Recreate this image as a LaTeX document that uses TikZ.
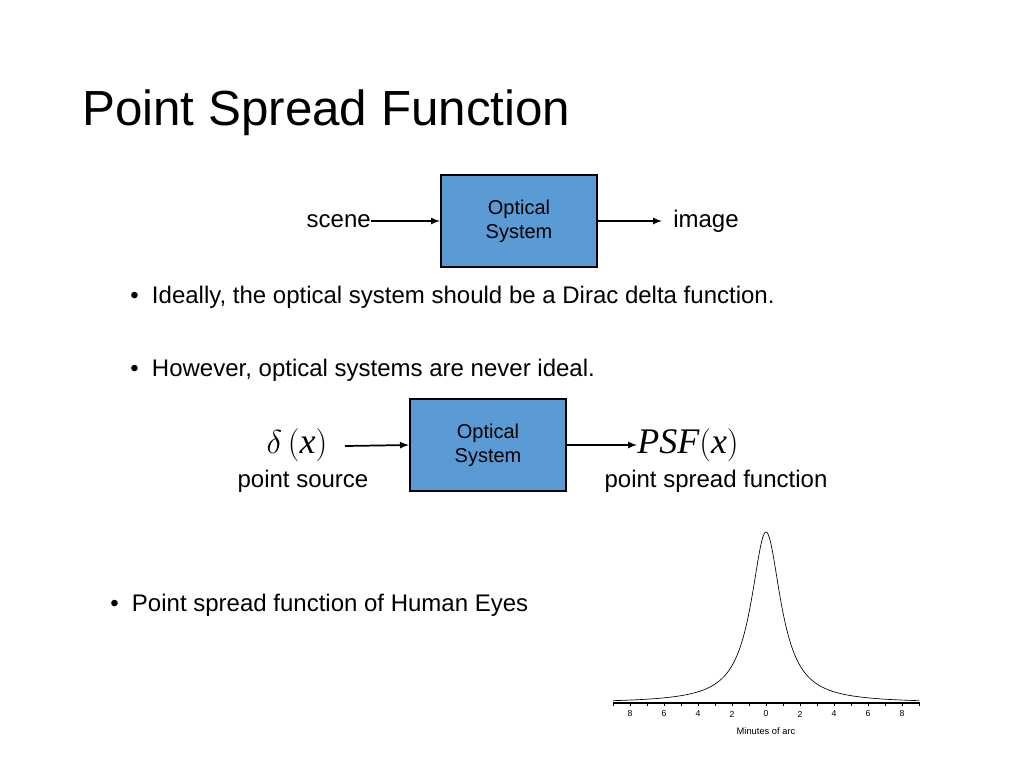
\documentclass[tikz,border=0pt]{standalone}
\usepackage{fontspec}
\setmainfont{Liberation Sans}
\newfontfamily\serifit{Liberation Serif}
\begin{document}
\begin{tikzpicture}[x=0.75pt,y=-0.75pt,
  obox/.style={draw=black,line width=1.6pt,fill=blue!20!cyan!10!black!0,fill={rgb,255:red,91;green,155;blue,213},minimum width=117pt,minimum height=69pt,align=center,font=\fontsize{15}{18}\selectfont,inner sep=0pt},
  body/.style={font=\fontsize{18}{21}\selectfont,inner sep=0pt},
  arr/.style={-latex,line width=1.3pt},
  tick/.style={font=\fontsize{6.5}{8}\selectfont,inner sep=0pt}]
\useasboundingbox (0,0) rectangle (1024,768);
\node[anchor=west,font=\fontsize{37}{44}\selectfont,inner sep=0pt] (title) at (82,113) {Point Spread Function};
% first diagram
\node[obox] (b1) at (519,221) {Optical\\System};
\node[body,anchor=east] (scene) at (371,221) {scene};
\node[body,anchor=west] (image) at (673,221) {image};
\draw[arr] (scene.east) -- (b1.west);
\draw[arr] (b1.east) -- (662,221) coordinate (imgend);
\node[body,anchor=west] (bul1) at (130,297) {\textbullet\ \ Ideally, the optical system should be a Dirac delta function.};
\node[body,anchor=west] (bul2) at (130,370) {\textbullet\ \ However, optical systems are never ideal.};
% second diagram
\node[obox] (b2) at (488,445) {Optical\\System};
\node[inner sep=0pt,font=\fontsize{27}{30}\selectfont] (delta) at (297,445) {$\delta\left(\textit{\serifit x}\right)$};
\node[inner sep=0pt,font=\fontsize{27}{30}\selectfont,anchor=west] (psf) at (637,445) {\serifit\itshape PSF$\left(\textit{\serifit x}\right)$};
\draw[arr] (345,446) -- (b2.west);
\draw[arr] (b2.east) -- (psf.west);
\node[body] (ps) at (303,481) {point source};
\node[body] (psfl) at (716,481) {point spread function};
\node[body,anchor=west] (bul3) at (110,605) {\textbullet\ \ Point spread function of Human Eyes};
% plot
\draw[line width=0.8pt] (613,703) -- (920,703);
\foreach \u in {-9,-8,...,9} \draw[line width=0.5pt] ({766+17*\u},703) -- ({766+17*\u},706);
\foreach \u/\l in {-8/8,-6/6,-4/4,-2/2,0/0,2/2,4/4,6/6,8/8}
  \node[tick] at ({766+17*\u},714) {\l};
\node[tick,font=\fontsize{7}{8}\selectfont] (mlabel) at (766,731) {Minutes of arc};
\draw[line width=0.5pt,domain=-153:153,samples=300,smooth] plot (\x+766,{703-171/(1+(\x/18)^2)});
\end{tikzpicture}
\end{document}
